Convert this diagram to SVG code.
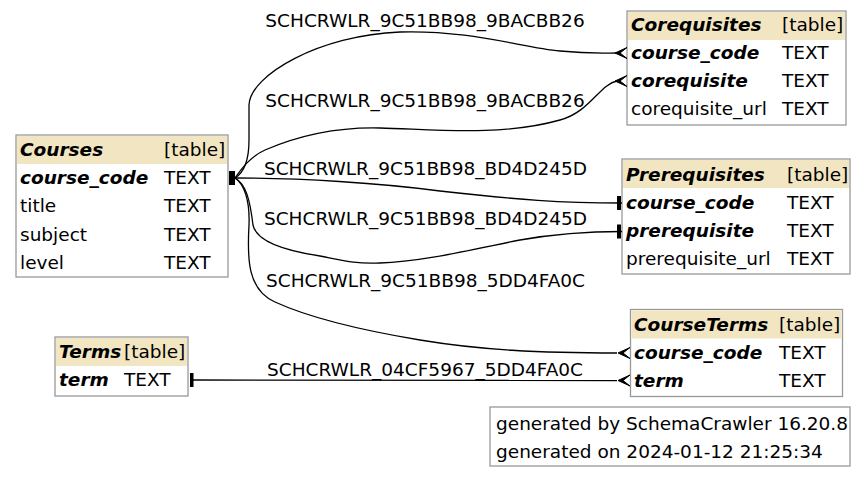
<svg xmlns="http://www.w3.org/2000/svg" width="866" height="477" viewBox="0 0 866 477">
<style>
text{font-family:"DejaVu Sans","Liberation Sans",sans-serif;font-size:18.5px;fill:#000}
.b{font-weight:bold;font-style:italic}
.box{fill:#fff;stroke:#999;stroke-width:1.3}
.hdr{fill:#f2e6c2;stroke:none}
.e{fill:none;stroke:#000;stroke-width:1.3}
.lbl{text-anchor:middle}
</style>
<rect width="866" height="477" fill="#fff"/>
<g id="Courses">
<rect class="box" x="16" y="135" width="212" height="142"/>
<rect class="hdr" x="17" y="136" width="210" height="28"/>
<text class="b" x="20" y="156">Courses</text><text x="164" y="156">[table]</text>
<text class="b" x="20" y="184">course_code</text><text x="164" y="184">TEXT</text>
<text x="20" y="212">title</text><text x="164" y="212">TEXT</text>
<text x="20" y="241">subject</text><text x="164" y="241">TEXT</text>
<text x="20" y="269">level</text><text x="164" y="269">TEXT</text>
</g>
<g id="Corequisites">
<rect class="box" x="627" y="11" width="219" height="114"/>
<rect class="hdr" x="628" y="12" width="217" height="28"/>
<text class="b" x="631" y="31">Corequisites</text><text x="782" y="31">[table]</text>
<text class="b" x="631" y="59">course_code</text><text x="782" y="59">TEXT</text>
<text class="b" x="631" y="87">corequisite</text><text x="782" y="87">TEXT</text>
<text x="631" y="115">corequisite_url</text><text x="782" y="115">TEXT</text>
</g>
<g id="Prerequisites">
<rect class="box" x="622" y="159" width="228" height="115"/>
<rect class="hdr" x="623" y="160" width="226" height="28"/>
<text class="b" x="626" y="181">Prerequisites</text><text x="787" y="181">[table]</text>
<text class="b" x="626" y="209">course_code</text><text x="787" y="209">TEXT</text>
<text class="b" x="626" y="237">prerequisite</text><text x="787" y="237">TEXT</text>
<text x="626" y="265">prerequisite_url</text><text x="787" y="265">TEXT</text>
</g>
<g id="CourseTerms">
<rect class="box" x="630.5" y="309.5" width="212" height="87"/>
<rect class="hdr" x="631.5" y="310.5" width="210" height="28"/>
<text class="b" x="634" y="331">CourseTerms</text><text x="779" y="331">[table]</text>
<text class="b" x="634" y="359">course_code</text><text x="779" y="359">TEXT</text>
<text class="b" x="634" y="387">term</text><text x="779" y="387">TEXT</text>
</g>
<g id="Terms">
<rect class="box" x="55" y="337" width="133" height="59"/>
<rect class="hdr" x="56" y="338" width="131" height="28"/>
<text class="b" x="59" y="358">Terms</text><text x="124" y="358">[table]</text>
<text class="b" x="59" y="386">term</text><text x="124" y="386">TEXT</text>
</g>
<g id="footer">
<rect class="box" x="490" y="407" width="360" height="59"/>
<text x="496" y="430">generated by SchemaCrawler 16.20.8</text>
<text x="496" y="458">generated on 2024-01-12 21:25:34</text>
</g>
<g id="connectors">
<path class="e" d="M235,178 C245,172 249,160 249,140 L249,105 C250,75 320,35 400,32 C470,30 520,47 560,51 C590,54 605,53 617,53"/>
<path class="e" d="M235,178 C242,168 250,157 265,150 C300,135 340,127 380,128 C430,129 500,137 560,120 C590,112 600,84 617,81"/>
<path class="e" d="M235,178 C300,178 380,183 440,191 C520,200 560,203 622,203"/>
<path class="e" d="M235,178 C246,184 250,200 253,225 C256,240 280,250 320,256 C345,261 355,264 380,263 C420,262 470,250 520,240 C560,233 590,231.5 622,231.5"/>
<path class="e" d="M235,178 C244,184 250,200 249,225 C247,260 248,290 275,302 C310,318 360,330 420,340 C480,350 540,353 617,353"/>
<path class="e" d="M193,380 L617,380.5"/>
<rect x="229" y="171" width="6" height="14" fill="#000"/>
<rect x="190" y="373" width="3.5" height="14" fill="#000"/>
<rect x="617" y="196" width="4" height="14" fill="#000"/>
<rect x="617" y="224.5" width="4" height="14" fill="#000"/>
<path d="M615,53 L627,47.5 L620,53 L627,58.5 Z" fill="#000" stroke="#000" stroke-width="1"/>
<path d="M615,81 L627,75.5 L620,81 L627,86.5 Z" fill="#000" stroke="#000" stroke-width="1"/>
<path d="M618,353 L630,347.5 L623,353 L630,358.5 Z" fill="#000" stroke="#000" stroke-width="1"/>
<path d="M618,380.5 L630,375 L623,380.5 L630,386 Z" fill="#000" stroke="#000" stroke-width="1"/>
<text class="lbl" x="425" y="27">SCHCRWLR_9C51BB98_9BACBB26</text>
<text class="lbl" x="425" y="107">SCHCRWLR_9C51BB98_9BACBB26</text>
<text class="lbl" x="425.5" y="175">SCHCRWLR_9C51BB98_BD4D245D</text>
<text class="lbl" x="425.5" y="225">SCHCRWLR_9C51BB98_BD4D245D</text>
<text class="lbl" x="425.5" y="287">SCHCRWLR_9C51BB98_5DD4FA0C</text>
<text class="lbl" x="425" y="376">SCHCRWLR_04CF5967_5DD4FA0C</text>
</g>
</svg>
